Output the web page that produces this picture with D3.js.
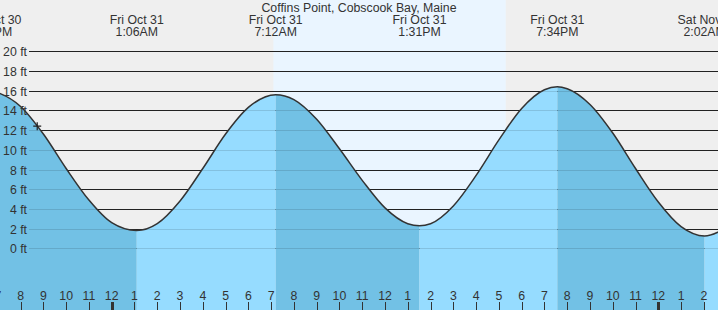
<!DOCTYPE html>
<html lang="en">
<head>
  <meta charset="UTF-8" />
  <title>Coffins Point, Cobscook Bay, Maine</title>
  <script src="https://cdn.jsdelivr.net/npm/d3@7"></script>
  <style>
    body { margin: 0; background: #fff; }
    svg { display: block; font-family: "Liberation Sans", Arial, sans-serif; }
    text { fill: #333; font-size: 12.3px; }
  </style>
</head>
<body>
  <div id="chart"></div>
  <script type="text/javascript">
    // hours since Fri Oct 31 00:00, heights in ft
    var tideHours   = [-5.3, -5, -4, -3, -2, -1, 0, 1.1, 2, 3, 4, 5, 6, 7.2, 8, 9, 10, 11, 12, 13, 13.517,
                       14, 15, 16, 17, 18, 19, 19.567, 20, 21, 22, 23, 24, 25, 26.033, 27];
    var tideHeights = [16.0, 15.8, 14.4, 11.6, 8.1, 4.9, 2.6, 1.8, 2.5, 4.8, 8.1, 11.6, 14.3, 15.6, 15.1, 13.1, 10.1, 6.9, 4.1, 2.5, 2.3,
                       2.5, 4.3, 7.4, 11.0, 14.2, 16.1, 16.4, 16.2, 14.6, 11.7, 8.1, 4.7, 2.2, 1.25, 2.1];

    // high / low tides
    var extremeHours = [-5.3, 1.1, 7.2, 13.517, 19.567, 26.033];
    var extremeDates = ["Thu Oct 30", "Fri Oct 31", "Fri Oct 31", "Fri Oct 31", "Fri Oct 31", "Sat Nov 1"];
    var extremeTimes = ["6:42PM", "1:06AM", "7:12AM", "1:31PM", "7:34PM", "2:02AM"];

    // daylight
    var sunrise = 7.1, sunset = 17.3;

    // current reading marker
    var nowHour = -3.27, nowHeight = 12.4;

    var heightTicks = [0, 2, 4, 6, 8, 10, 12, 14, 16, 18, 20];
    var hourTicks  = [-5, -4, -3, -2, -1, 0, 1, 2, 3, 4, 5, 6, 7, 8, 9, 10, 11, 12, 13, 14, 15, 16,
                      17, 18, 19, 20, 21, 22, 23, 24, 25, 26];
    var hourLabels = ["7", "8", "9", "10", "11", "12", "1", "2", "3", "4", "5", "6", "7", "8", "9", "10",
                      "11", "12", "1", "2", "3", "4", "5", "6", "7", "8", "9", "10", "11", "12", "1", "2"];

    var width = 718, height = 310;

    var svg = d3.select("#chart").append("svg")
      .attr("width", width)
      .attr("height", height);

    var x = d3.scaleLinear().domain([0, 24]).range([111.7, 658.3]);
    var y = d3.scaleLinear().domain([0, 20]).range([248.3, 51.3]);
    var tEnd = x.invert(width);

    // night / day background
    svg.append("rect").attr("width", width).attr("height", height).attr("fill", "#efefef");
    svg.append("rect")
      .attr("x", x(sunrise)).attr("y", 0)
      .attr("width", x(sunset) - x(sunrise)).attr("height", height)
      .attr("fill", "#eaf5ff");

    // grid lines
    svg.append("g").selectAll("line")
      .data(heightTicks).join("line")
      .attr("x1", 29).attr("x2", width)
      .attr("y1", d => Math.round(y(d)) + 0.5)
      .attr("y2", d => Math.round(y(d)) + 0.5)
      .attr("stroke", "#222").attr("stroke-width", 1);

    var tide = tideHours.map((h, i) => [h, tideHeights[i]]);

    var area = d3.area()
      .x(d => x(d[0]))
      .y0(height)
      .y1(d => y(d[1]))
      .curve(d3.curveMonotoneX);

    var line = d3.line()
      .x(d => x(d[0]))
      .y(d => y(d[1]))
      .curve(d3.curveMonotoneX);

    svg.append("clipPath").attr("id", "water")
      .append("path").datum(tide).attr("d", area);

    // falling tide darker, rising tide lighter
    var bandEdges = extremeHours.concat([tEnd + 1]);
    var water = svg.append("g").attr("clip-path", "url(#water)");
    water.selectAll("rect")
      .data(d3.range(bandEdges.length - 1)).join("rect")
      .attr("x", i => x(bandEdges[i]))
      .attr("y", 0)
      .attr("width", i => x(bandEdges[i + 1]) - x(bandEdges[i]))
      .attr("height", height)
      .attr("fill", i => i % 2 === 0 ? "#72c1e5" : "#96dcff");

    // faint grid lines showing through the water
    water.selectAll("line")
      .data(heightTicks).join("line")
      .attr("x1", 29).attr("x2", width)
      .attr("y1", d => Math.round(y(d)) + 0.5)
      .attr("y2", d => Math.round(y(d)) + 0.5)
      .attr("stroke", "#000").attr("stroke-opacity", 0.12);

    svg.append("path")
      .datum(tide)
      .attr("d", line)
      .attr("fill", "none")
      .attr("stroke", "#333")
      .attr("stroke-width", 1.5);

    // height labels sit above the water
    svg.append("g").selectAll("text")
      .data(heightTicks).join("text")
      .attr("x", 27)
      .attr("y", d => Math.round(y(d)) + 0.5)
      .attr("dy", "0.35em")
      .attr("text-anchor", "end")
      .text(d => d + " ft");

    // current position marker
    var mx = x(nowHour), my = y(nowHeight);
    svg.append("path")
      .attr("d", "M" + (mx - 4) + "," + my + "H" + (mx + 4) + "M" + mx + "," + (my - 4) + "V" + (my + 4))
      .attr("stroke", "#222").attr("stroke-width", 1.2);

    // title and high/low labels
    svg.append("text")
      .attr("x", width / 2).attr("y", 12)
      .attr("text-anchor", "middle")
      .text("Coffins Point, Cobscook Bay, Maine");

    var labels = svg.append("g").selectAll("g")
      .data(extremeHours).join("g")
      .attr("transform", d => "translate(" + x(d) + ",0)");
    labels.append("text")
      .attr("y", 24).attr("text-anchor", "middle")
      .text((d, i) => extremeDates[i]);
    labels.append("text")
      .attr("y", 36).attr("text-anchor", "middle")
      .text((d, i) => extremeTimes[i]);

    // hour axis
    svg.append("g").selectAll("text")
      .data(hourTicks).join("text")
      .attr("x", d => x(d))
      .attr("y", 300)
      .attr("text-anchor", "middle")
      .text((d, i) => hourLabels[i]);

    svg.append("g").selectAll("line")
      .data(hourTicks).join("line")
      .attr("x1", d => Math.round(x(d)) + 0.5)
      .attr("x2", d => Math.round(x(d)) + 0.5)
      .attr("y1", 302).attr("y2", height)
      .attr("stroke", "#333")
      .attr("stroke-width", d => d % 24 === 0 ? 3 : 1);
  </script>
</body>
</html>
